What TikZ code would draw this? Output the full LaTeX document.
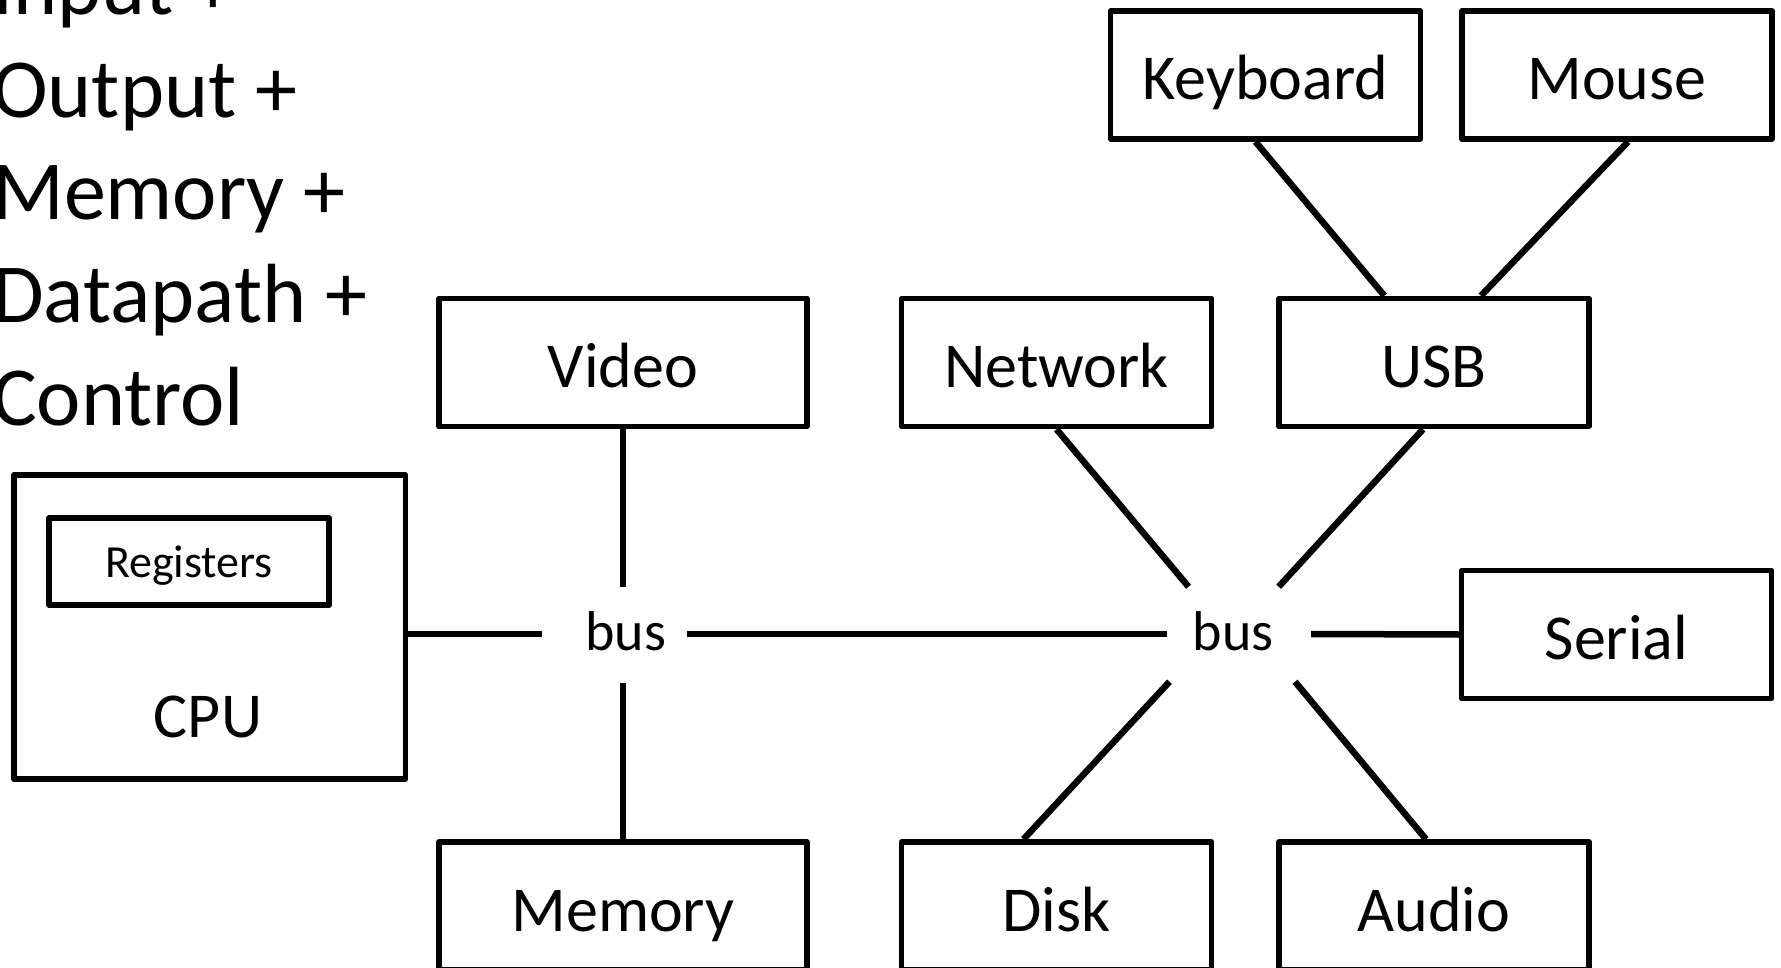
\documentclass[tikz,border=0pt]{standalone}
\usepackage{fontspec}
\setmainfont{Carlito}
\usetikzlibrary{calc}
\begin{document}
\begin{tikzpicture}[x=1pt,y=-1pt,
  box/.style={draw, line width=5.5pt, line join=round, minimum width=310pt, minimum height=128pt, inner sep=0pt,
    font=\fontsize{64}{77}\selectfont, text height=50pt, text depth=0pt},
  widebox/.style={box, minimum width=368pt},
  regbox/.style={draw, line width=5.5pt, line join=round, minimum width=280pt, minimum height=87pt, inner sep=0pt,
    font=\fontsize{46}{55}\selectfont, text height=32pt, text depth=0pt},
  link/.style={line width=6.5pt},
  bustext/.style={inner sep=0pt, anchor=base, font=\fontsize{56}{67}\selectfont},
  bigtext/.style={inner sep=0pt, anchor=base west, font=\fontsize{84}{101}\selectfont}]
\useasboundingbox (0,0) rectangle (1781,968);
\clip (0,0) rectangle (1781,968);

% title lines
\node[bigtext] (t1) at (-8,15) {Input +};
\node[bigtext] (t2) at (-8,118) {Output +};
\node[bigtext] (t3) at (-8,220) {Memory +};
\node[bigtext] (t4) at (-8,323) {Datapath +};
\node[bigtext] (t5) at (-8,425) {Control};

% boxes
\node[box] (Keyboard) at (1265.5,75) {Keyboard};
\node[box] (Mouse) at (1617,75) {Mouse};
\node[widebox] (Video) at (623,362.5) {Video};
\node[box] (Network) at (1056.5,362.5) {Network};
\node[box] (USB) at (1434,362.5) {USB};
\node[box] (Serial) at (1616.5,634.5) {Serial};
\node[widebox] (Memory) at (623,906) {Memory};
\node[box] (Disk) at (1056.5,906) {Disk};
\node[box] (Audio) at (1434,906) {Audio};

\node[draw, line width=5.5pt, line join=round, minimum width=391.5pt, minimum height=304pt, inner sep=0pt] (CPU) at (209.75,627) {};
\node[regbox] (Registers) at (189,561.5) {Registers};
\node[inner sep=0pt, anchor=base, font=\fontsize{64}{77}\selectfont] (CPUlabel) at (208,737) {CPU};

\node[bustext] (bus1) at (625.7,650) {bus};
\node[bustext] (bus2) at (1233,650) {bus};

% connectors around bus1
\draw[link] (Video.south) -- ($(bus1.base)+(-2.7,-63.3)$);
\draw[link] ($(bus1.base)+(-2.7,33.3)$) -- (Memory.north);
\draw[link] ($(bus1.base)+(-83.7,-16)$) coordinate (b1w) -- (CPU.east |- b1w);
\draw[link] ($(bus1.base)+(61,-16)$) -- ($(bus2.base)+(-66.5,-16)$);

% connectors around bus2
\draw[link] ($(bus2.base)+(78,-16)$) -- (Serial.west);
\draw[link] (Network.south) -- ($(bus2.base)+(-44.5,-63.3)$);
\draw[link] ([xshift=-11pt]USB.south) -- ($(bus2.base)+(45.7,-63.3)$);
\draw[link] ($(bus2.base)+(-63.5,31.7)$) -- ([xshift=-33pt]Disk.north);
\draw[link] ($(bus2.base)+(62,31.7)$) -- ([xshift=-8pt]Audio.north);

% USB devices
\draw[link] ([xshift=-10pt]Keyboard.south) -- ([xshift=-49.6pt]USB.north);
\draw[link] ([xshift=11pt]Mouse.south) -- ([xshift=47pt]USB.north);
\end{tikzpicture}
\end{document}
